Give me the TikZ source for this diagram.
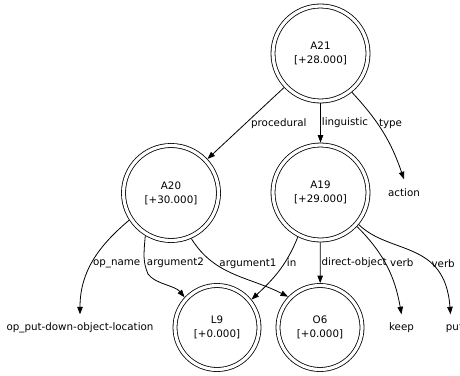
\documentclass[tikz,border=0pt]{standalone}
\usepackage{fontspec}
\setmainfont{DejaVu Sans}
\usetikzlibrary{arrows.meta}

\begin{document}
\begin{tikzpicture}[
    x=1pt, y=1pt,
    font=\fontsize{10.3}{14}\selectfont,
    dcirc/.style={circle, draw, double, double distance=3.2pt, line width=0.8pt, inner sep=0pt, outer sep=2.4pt, align=center},
    bigstate/.style={dcirc, minimum size=95pt},
    smallstate/.style={dcirc, minimum size=84pt},
    plain/.style={inner sep=0pt, minimum height=27pt},
    lbl/.style={inner sep=0pt, anchor=west},
    arrow/.style={-{Triangle[length=7.5pt, width=5.5pt]}, line width=0.8pt}
]
\useasboundingbox (0,0) rectangle (460,-375);
\node (a21) [bigstate] at (320.5,-53.5) {A21\\{}[+28.000]};
\node (a20) [bigstate] at (171,-193) {A20\\{}[+30.000]};
\node (a19) [bigstate] at (320.5,-192.5) {A19\\{}[+29.000]};
\node (l9) [smallstate] at (217,-327.5) {L9\\{}[+0.000]};
\node (o6) [smallstate] at (320,-327.5) {O6\\{}[+0.000]};
\node (action) [plain] at (404,-193) {action};
\node (opname) [plain] at (80,-328) {op\_put-down-object-location};
\node (keep) [plain] at (401.5,-328) {keep};
\node (put) [plain] at (454.5,-328) {put};
\draw [arrow] (a21) -- node[lbl, pos=0.5, xshift=5pt] {procedural} (a20);
\draw [arrow] (a21) -- node[lbl, pos=0.5, xshift=1pt] {linguistic} (a19);
\draw [arrow] (a21.-51) to[bend left=12] node[lbl, pos=0.39, xshift=1pt] {type} (action.north);
\draw [arrow] (a20.-147) to[out=-140, in=90] node[lbl, pos=0.52, xshift=1pt] {op\_name} (opname.north);
\draw [arrow] (a20.-121) .. controls (143.5,-255) and (143,-262) .. node[lbl, pos=0.65, xshift=2pt] {argument2} (148,-274)
    .. controls (155,-284) and (175,-285.5) .. (l9.137);
\draw [arrow] (a20.-66) to[out=-58, in=153] node[lbl, pos=0.3, xshift=4pt] {argument1} (o6.136);
\draw [arrow] (a19.-117) to[out=-112, in=43] node[lbl, pos=0.35, xshift=1.5pt] {in} (l9.39);
\draw [arrow] (a19) -- node[lbl, pos=0.5, xshift=1pt] {direct-object} (o6);
\draw [arrow] (a19.-43) to[out=-45, in=100] node[lbl, pos=0.45, xshift=5pt] {verb} (keep.north);
\draw [arrow] (a19.-40) .. controls (390,-255) and (445,-240) .. node[lbl, pos=0.65, xshift=1.5pt] {verb} ([xshift=-4pt]put.north);
\end{tikzpicture}
\end{document}
